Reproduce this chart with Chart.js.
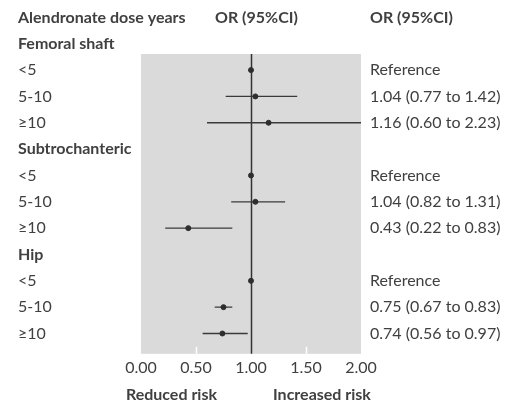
<!DOCTYPE html>
<html>
<head>
<meta charset="utf-8">
<script src="https://cdn.jsdelivr.net/npm/chart.js@4"></script>
<style>
  html, body { margin: 0; padding: 0; background: #fff; }
  #wrap { width: 506px; height: 401px; }
</style>
</head>
<body>
<div id="wrap"><canvas id="forest"></canvas></div>
<script>
// Forest plot: alendronate dose years vs fracture odds ratios

const groups = ["Femoral shaft", "Subtrochanteric", "Hip"];
const doses = ["<5", "5-10", "≥10"];
const orValue = [1.00, 1.04, 1.16, 1.00, 1.04, 0.43, 1.00, 0.75, 0.74];
const ciLow   = [null, 0.77, 0.60, null, 0.82, 0.22, null, 0.67, 0.56];
const ciHigh  = [null, 1.42, 2.23, null, 1.31, 0.83, null, 0.83, 0.97];
const orText = [
  "Reference", "1.04 (0.77 to 1.42)", "1.16 (0.60 to 2.23)",
  "Reference", "1.04 (0.82 to 1.31)", "0.43 (0.22 to 0.83)",
  "Reference", "0.75 (0.67 to 0.83)", "0.74 (0.56 to 0.97)"
];
const xTicks = [0, 0.5, 1, 1.5, 2];

const FONT = "Lato, 'Noto Sans', sans-serif";
const INK = "#404040";

// row 0 = column headers, then a title row plus three dose rows per group
const rowOf = i => 2 + Math.floor(i / 3) * 4 + (i % 3);

const ciSets = [];
orValue.forEach((v, i) => {
  if (ciLow[i] == null) return;
  ciSets.push({
    type: "line",
    data: [{ x: ciLow[i], y: rowOf(i) }, { x: ciHigh[i], y: rowOf(i) }],
    borderColor: "#3a3a3a",
    borderWidth: 1.3,
    pointRadius: 0,
    fill: false
  });
});

const forestText = {
  id: "forestText",
  beforeDraw(chart) {
    const { ctx, chartArea: a } = chart;
    ctx.save();
    ctx.fillStyle = "#dadada";
    ctx.fillRect(a.left, a.top, a.right - a.left, a.bottom - a.top);
    // small white notches at the half ticks
    const xs = chart.scales.x;
    ctx.strokeStyle = "#ffffff";
    ctx.lineWidth = 1.5;
    [0.5, 1.5].forEach(v => {
      const px = Math.round(xs.getPixelForValue(v)) + 0.5;
      ctx.beginPath();
      ctx.moveTo(px, a.bottom - 7);
      ctx.lineTo(px, a.bottom);
      ctx.stroke();
    });
    // line of no effect
    const x1 = Math.round(xs.getPixelForValue(1)) + 0.5;
    ctx.strokeStyle = "#333333";
    ctx.lineWidth = 1.5;
    ctx.beginPath();
    ctx.moveTo(x1, a.top);
    ctx.lineTo(x1, a.bottom);
    ctx.stroke();
    ctx.restore();
  },
  afterDraw(chart) {
    const { ctx, chartArea: a } = chart;
    const ys = chart.scales.y, xs = chart.scales.x;
    const leftX = 18, midX = 215, rightX = 370;
    ctx.save();
    ctx.fillStyle = INK;
    ctx.textBaseline = "middle";
    ctx.textAlign = "left";

    ctx.font = "bold 16px " + FONT;
    const hy = ys.getPixelForValue(0);
    ctx.fillText("Alendronate dose years", leftX, hy);
    ctx.fillText("OR (95%CI)", midX, hy);
    ctx.fillText("OR (95%CI)", rightX, hy);
    groups.forEach((g, k) => {
      ctx.fillText(g, leftX, ys.getPixelForValue(1 + k * 4));
    });

    ctx.font = "16px " + FONT;
    orValue.forEach((v, i) => {
      const py = ys.getPixelForValue(rowOf(i));
      ctx.fillText(doses[i % 3], leftX, py);
      ctx.fillText(orText[i], rightX, py);
    });

    ctx.font = "bold 16px " + FONT;
    const x1 = xs.getPixelForValue(1);
    const by = a.bottom + 41;
    ctx.textAlign = "right";
    ctx.fillText("Reduced risk", x1 - 34, by);
    ctx.textAlign = "left";
    ctx.fillText("Increased risk", x1 + 22, by);
    ctx.restore();
  }
};

new Chart(document.getElementById("forest"), {
  type: "scatter",
  data: {
    datasets: [
      {
        data: orValue.map((v, i) => ({ x: v, y: rowOf(i) })),
        backgroundColor: "#2e2e2e",
        borderColor: "#2e2e2e",
        pointRadius: 2.5,
        pointHoverRadius: 2.5
      },
      ...ciSets
    ]
  },
  options: {
    responsive: true,
    maintainAspectRatio: false,
    animation: false,
    events: [],
    layout: { padding: { left: 141, right: 145, top: 54, bottom: 20 } },
    plugins: { legend: { display: false }, tooltip: { enabled: false } },
    scales: {
      x: {
        type: "linear",
        min: 0,
        max: 2,
        afterBuildTicks: s => { s.ticks = xTicks.map(v => ({ value: v })); },
        grid: { display: false, drawTicks: false },
        border: { display: false },
        ticks: {
          padding: 4,
          color: INK,
          font: { family: FONT, size: 16 },
          callback: v => Number(v).toFixed(2)
        }
      },
      y: {
        type: "linear",
        display: false,
        reverse: true,
        min: 1.39,
        max: 12.77
      }
    }
  },
  plugins: [forestText]
});
</script>
</body>
</html>
